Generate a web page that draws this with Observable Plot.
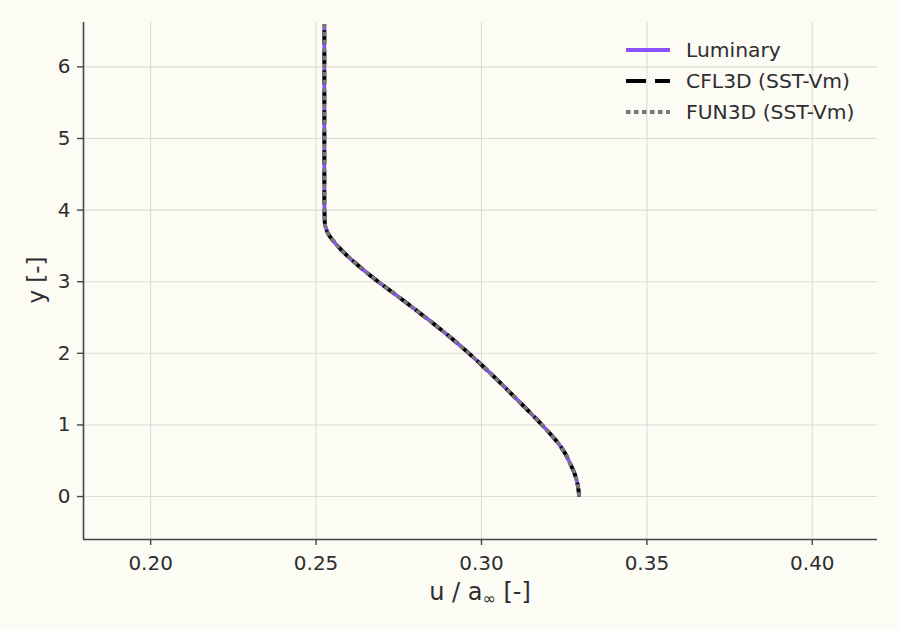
<!DOCTYPE html>
<html><head><meta charset="utf-8">
<script src="https://cdn.jsdelivr.net/npm/d3@7"></script>
<script src="https://cdn.jsdelivr.net/npm/@observablehq/plot@0.6"></script>
<style>body{margin:0;background:#fcfbf4;}</style>
</head><body><div id="chart"></div>
<script>
// wall-normal position y [-]
const yPos = [0.00, 0.10, 0.22, 0.35, 0.46, 0.60, 0.74, 0.87, 1.00, 1.20, 1.40, 1.60, 1.83, 2.00, 2.20, 2.40, 2.60, 2.80, 3.00, 3.22, 3.43, 3.57, 3.66, 3.74, 3.85, 4.20, 5.00, 6.00, 6.60];
// u / a_inf for each solver
const luminary = [0.3295, 0.3293, 0.3288, 0.3279, 0.3268, 0.3253, 0.3233, 0.3209, 0.3183, 0.3141, 0.3098, 0.3054, 0.3002, 0.2962, 0.2912, 0.2859, 0.2803, 0.2746, 0.2688, 0.2629, 0.2579, 0.2552, 0.2538, 0.2530, 0.2526, 0.2525, 0.2525, 0.2525, 0.2525];
const cfl3d    = [0.3295, 0.3293, 0.3288, 0.3279, 0.3268, 0.3253, 0.3233, 0.3209, 0.3183, 0.3141, 0.3098, 0.3054, 0.3002, 0.2962, 0.2912, 0.2859, 0.2803, 0.2746, 0.2688, 0.2629, 0.2579, 0.2552, 0.2538, 0.2530, 0.2526, 0.2525, 0.2525, 0.2525, 0.2525];
const fun3d    = [0.3295, 0.3293, 0.3288, 0.3279, 0.3268, 0.3253, 0.3233, 0.3209, 0.3183, 0.3141, 0.3098, 0.3054, 0.3002, 0.2962, 0.2912, 0.2859, 0.2803, 0.2746, 0.2688, 0.2629, 0.2579, 0.2552, 0.2538, 0.2530, 0.2526, 0.2525, 0.2525, 0.2525, 0.2525];

const seriesNames = ["Luminary", "CFL3D (SST-Vm)", "FUN3D (SST-Vm)"];
const seriesColors = ["#8c52ff", "#000000", "#777777"];
const seriesDash = [null, "14,6", "4.5,3.5"];
const xTicks = [0.20, 0.25, 0.30, 0.35, 0.40];
const yTicks = [0, 1, 2, 3, 4, 5, 6];
const xDomain = [0.1797, 0.4197];
const yDomain = [-0.60, 6.62];

const seriesValues = [luminary, cfl3d, fun3d];
const rows = seriesNames.map((name, i) => yPos.map((y, j) => ({series: name, y, u: seriesValues[i][j]})));

const axisColor = "#444444";
const textColor = "#2e2e2e";
const gridColor = "#dcdbd5";

const svg = Plot.plot({
  width: 900, height: 630,
  marginLeft: 83, marginRight: 23, marginTop: 22, marginBottom: 91,
  style: {background: "#fcfbf4", fontFamily: "DejaVu Sans", fontSize: "20px", color: textColor},
  x: {domain: xDomain},
  y: {domain: yDomain},
  marks: [
    Plot.gridX(xTicks, {stroke: gridColor, strokeOpacity: 1, strokeWidth: 1.1}),
    Plot.gridY(yTicks, {stroke: gridColor, strokeOpacity: 1, strokeWidth: 1.1}),
    Plot.axisX(xTicks, {tickSize: 6, tickPadding: 10, tickFormat: d3.format(".2f"), label: null, stroke: axisColor, fill: textColor, strokeWidth: 1.4}),
    Plot.axisY(yTicks, {tickSize: 6, tickPadding: 7, tickFormat: d3.format("d"), label: null, stroke: axisColor, fill: textColor, strokeWidth: 1.4}),
    ...rows.map((r, i) => Plot.line(r, {
      x: "u", y: "y", curve: "monotone-y",
      stroke: seriesColors[i], strokeWidth: 3.8,
      strokeLinecap: "butt", strokeLinejoin: "round",
      strokeDasharray: seriesDash[i] || undefined
    })),
    Plot.ruleX([xDomain[0]], {stroke: axisColor, strokeWidth: 1.6}),
    Plot.ruleY([yDomain[0]], {stroke: axisColor, strokeWidth: 1.6})
  ]
});
document.getElementById("chart").append(svg);

const s = d3.select(svg);
// x-axis label
const xl = s.append("text").attr("x", 480).attr("y", 600).attr("text-anchor", "middle")
  .attr("fill", textColor).style("font-size", "24px").style("font-family", "DejaVu Sans");
xl.append("tspan").text("u / a");
xl.append("tspan").text("∞").style("font-size", "16px").attr("dy", 4);
xl.append("tspan").text(" [-]").attr("dy", -4);
// y-axis label
s.append("text").attr("transform", "translate(44,280) rotate(-90)").attr("text-anchor", "middle")
  .attr("fill", textColor).style("font-size", "23px").style("font-family", "DejaVu Sans").text("y [-]");

// legend
const lg = s.append("g").attr("text-anchor", "start");
seriesNames.forEach((name, i) => {
  const yy = 50 + 31 * i;
  const ln = lg.append("line").attr("x1", 626).attr("x2", 670).attr("y1", yy).attr("y2", yy)
    .attr("stroke", seriesColors[i]).attr("stroke-width", 3.8).attr("stroke-linecap", "butt");
  if (seriesDash[i]) ln.attr("stroke-dasharray", i === 1 ? "20,9" : seriesDash[i]);
  lg.append("text").attr("x", 686).attr("y", yy).attr("dy", "0.36em").attr("fill", textColor)
    .attr("text-anchor", "start")
    .style("font-size", "20.3px").style("font-family", "DejaVu Sans").text(name);
});
</script>
</body></html>
